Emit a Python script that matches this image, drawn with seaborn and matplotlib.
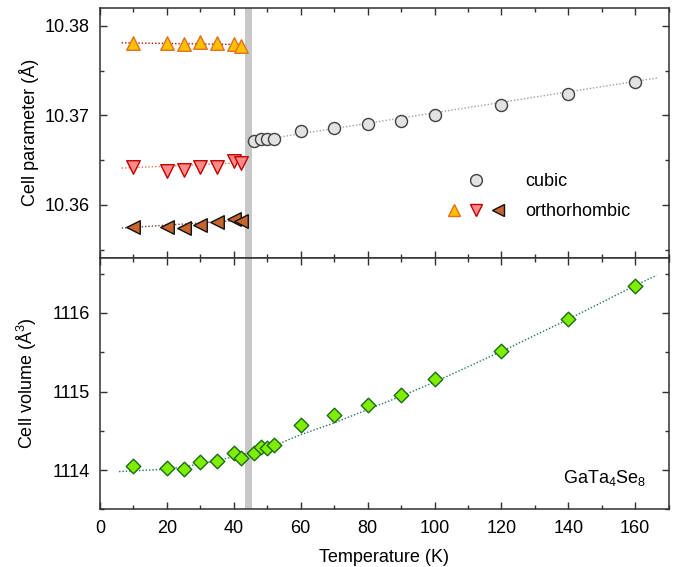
import numpy as np
import pandas as pd
import matplotlib
matplotlib.use("Agg")
import matplotlib.pyplot as plt
from matplotlib.lines import Line2D
from matplotlib.legend_handler import HandlerTuple
from matplotlib.ticker import MultipleLocator
import seaborn as sns

# temperatures (K)
t_ortho = [10, 20, 25, 30, 35, 40, 42]
t_cubic = [46, 48, 50, 52, 60, 70, 80, 90, 100, 120, 140, 160]
t_vol = [10, 20, 25, 30, 35, 40, 42, 46, 48, 50, 52, 60, 70, 80, 90, 100, 120, 140, 160]

# cell parameters (Angstrom)
a_up = [10.3781, 10.3781, 10.3780, 10.3782, 10.3781, 10.3780, 10.3777]
a_down = [10.3642, 10.3638, 10.3639, 10.3642, 10.3642, 10.3649, 10.3647]
a_left = [10.3575, 10.3575, 10.3574, 10.3578, 10.3581, 10.3584, 10.3582]
a_cubic = [10.3671, 10.3673, 10.3673, 10.3674, 10.3682, 10.3686, 10.3690,
           10.3694, 10.3700, 10.3712, 10.3724, 10.3737]

# cell volume (Angstrom^3)
vol = [1114.055, 1114.021, 1114.009, 1114.102, 1114.115, 1114.221, 1114.153,
       1114.221, 1114.289, 1114.281, 1114.319, 1114.574, 1114.702, 1114.830,
       1114.957, 1115.153, 1115.511, 1115.928, 1116.349]

# fit curves
fit_ortho_t = [6.5, 43]
fit_up = [10.3781, 10.3779]
fit_down = [10.3641, 10.3647]
fit_left = [10.3574, 10.3583]
fit_cubic_t = [44, 167]
fit_cubic = [10.3670, 10.3742]
fit_vol_t = [5.7, 10, 20, 30, 40, 52, 60, 70, 80, 90, 100, 120, 140, 160, 166.4]
fit_vol = [1113.98, 1113.99, 1114.01, 1114.077, 1114.17, 1114.31, 1114.45, 1114.60,
           1114.77, 1114.94, 1115.12, 1115.51, 1115.92, 1116.35, 1116.48]

band = (43.3, 45.3)

sns.set_theme(style="ticks")
plt.rcParams["font.family"] = ["Liberation Sans", "DejaVu Sans"]
plt.rcParams["mathtext.fontset"] = "custom"
plt.rcParams["mathtext.rm"] = "Liberation Sans"
plt.rcParams["mathtext.it"] = "Liberation Sans"
plt.rcParams["font.size"] = 13
plt.rcParams["axes.labelsize"] = 13
plt.rcParams["text.color"] = "black"
plt.rcParams["axes.labelcolor"] = "black"
plt.rcParams["xtick.labelcolor"] = "black"
plt.rcParams["ytick.labelcolor"] = "black"

fig = plt.figure(figsize=(6.74, 5.67), dpi=100)
left, right = 100 / 674, 668.7 / 674
mid = 1 - 258 / 567
ax1 = fig.add_axes([left, mid, right - left, (1 - 7.7 / 567) - mid])
ax2 = fig.add_axes([left, 1 - 509.3 / 567, right - left, mid - (1 - 509.3 / 567)])

dots = (0, (1, 1.4))

# upper panel
ax1.axvspan(*band, color="#c8c8c8", lw=0, zorder=0)
sns.lineplot(x=fit_ortho_t, y=fit_up, ax=ax1, color="#b01010", lw=1, linestyle=dots, zorder=1)
sns.lineplot(x=fit_ortho_t, y=fit_down, ax=ax1, color="#e07850", lw=1, linestyle=dots, zorder=1)
sns.lineplot(x=fit_ortho_t, y=fit_left, ax=ax1, color="#7a4040", lw=1, linestyle=dots, zorder=1)
sns.lineplot(x=fit_cubic_t, y=fit_cubic, ax=ax1, color="#a0a0a0", lw=1, linestyle=dots, zorder=1)

sns.scatterplot(x=t_ortho, y=a_up, ax=ax1, marker="^", s=95, color="#ffc000",
                edgecolor="#e07020", linewidth=1, zorder=3)
sns.scatterplot(x=t_ortho, y=a_down, ax=ax1, marker="v", s=95, color="#ff8a8a",
                edgecolor="#c00000", linewidth=1, zorder=3)
sns.scatterplot(x=t_ortho, y=a_left, ax=ax1, marker="<", s=95, color="#c8642e",
                edgecolor="#111111", linewidth=1, zorder=3)
sns.scatterplot(x=t_cubic, y=a_cubic, ax=ax1, marker="o", s=75, color="#e2e2e2",
                edgecolor="#404040", linewidth=1, zorder=3)

ax1.set_ylim(10.35406, 10.38202)
ax1.yaxis.set_major_locator(MultipleLocator(0.01))
ax1.yaxis.set_minor_locator(MultipleLocator(0.005))
ax1.yaxis.set_major_formatter(matplotlib.ticker.FormatStrFormatter("%.2f"))
ax1.set_ylabel("Cell parameter (Å)", fontsize=13)
ax1.tick_params(labelbottom=False)

h_cub = Line2D([], [], ls="none", marker="o", ms=8.5, mfc="#e2e2e2", mec="#404040", mew=1)
h_up = Line2D([], [], ls="none", marker="^", ms=9, mfc="#ffc000", mec="#e07020", mew=1)
h_dn = Line2D([], [], ls="none", marker="v", ms=9, mfc="#ff8a8a", mec="#c00000", mew=1)
h_lf = Line2D([], [], ls="none", marker="<", ms=9, mfc="#c8642e", mec="#111111", mew=1)
ax1.legend([h_cub, (h_up, h_dn, h_lf)], ["cubic", "orthorhombic"],
           handler_map={tuple: HandlerTuple(ndivide=None, pad=0)},
           loc="center left", bbox_to_anchor=(0.588, 0.245), frameon=False,
           borderpad=0, handlelength=3.6, handletextpad=0.93, labelspacing=0.75,
           numpoints=1, fontsize=13)

# lower panel
ax2.axvspan(*band, color="#c8c8c8", lw=0, zorder=0)
sns.lineplot(x=fit_vol_t, y=fit_vol, ax=ax2, color="#1f7a50", lw=1, linestyle=dots, zorder=1)
sns.scatterplot(x=t_vol, y=vol, ax=ax2, marker="D", s=55, color="#80ee00",
                edgecolor="#1a6a1a", linewidth=1, zorder=3)
ax2.set_ylim(1113.5, 1116.7)
ax2.yaxis.set_major_locator(MultipleLocator(1))
ax2.yaxis.set_minor_locator(MultipleLocator(0.5))
ax2.set_ylabel("Cell volume (Å$^3$)", fontsize=13)
ax2.set_xlabel("Temperature (K)", fontsize=13, labelpad=8)
ax2.text(0.96, 0.125, "GaTa$_4$Se$_8$", transform=ax2.transAxes,
         ha="right", va="center", fontsize=13)

for ax in (ax1, ax2):
    ax.set_xlim(0, 170)
    ax.xaxis.set_major_locator(MultipleLocator(20))
    ax.xaxis.set_minor_locator(MultipleLocator(10))
    ax.tick_params(which="both", direction="in", top=True, right=True,
                   color="#303030", width=1, labelsize=13)
    ax.tick_params(axis="x", which="both", pad=8)
    ax.tick_params(axis="y", which="both", pad=7.5)
    ax.tick_params(which="major", length=5)
    ax.tick_params(which="minor", length=3)
    for sp in ax.spines.values():
        sp.set_visible(True)
        sp.set_color("#303030")
        sp.set_linewidth(1.1)
    ax.yaxis.set_label_coords(-0.108, 0.5)

fig.savefig("out.png", dpi=100)
